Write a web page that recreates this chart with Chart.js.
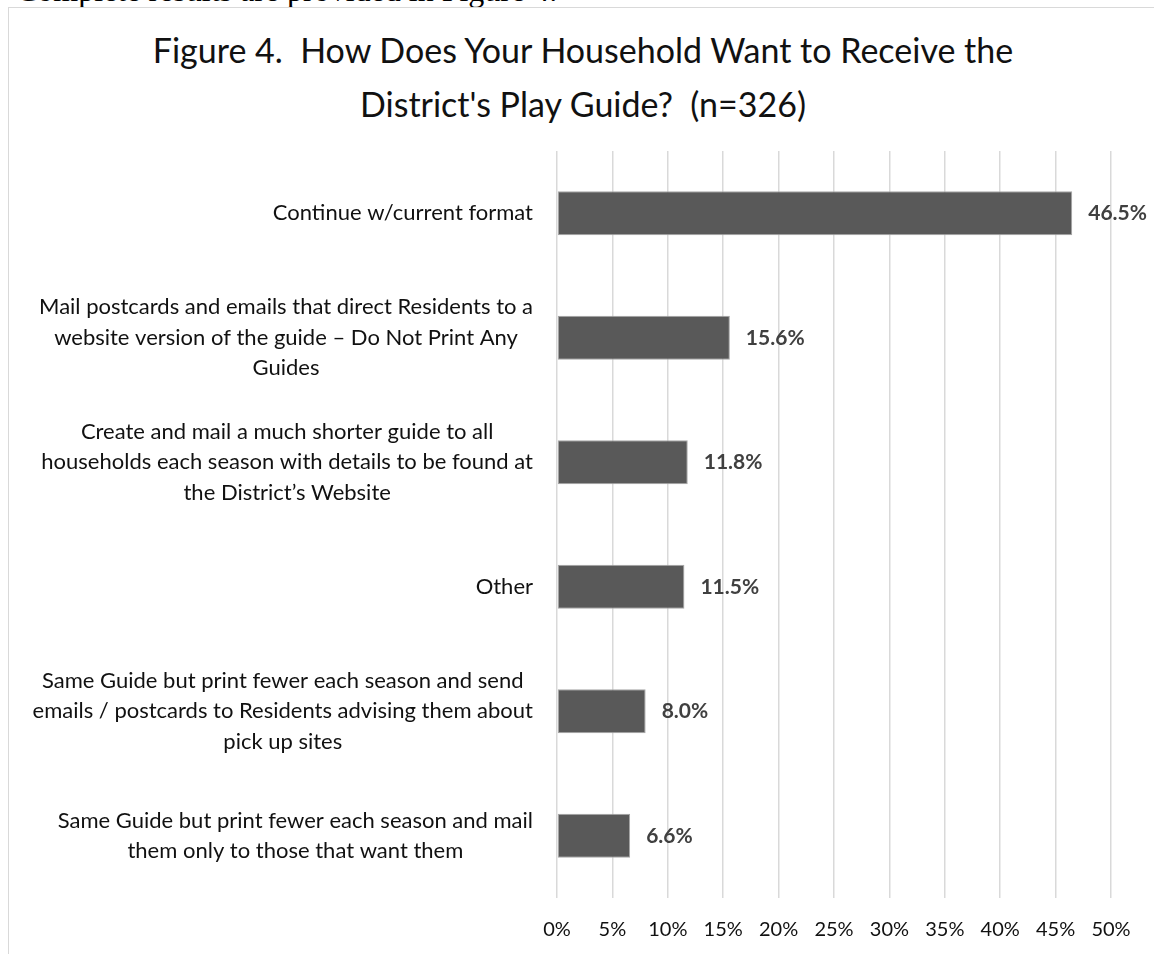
<!DOCTYPE html>
<html>
<head>
<meta charset="utf-8">
<script src="https://cdn.jsdelivr.net/npm/chart.js@4.4.0/dist/chart.umd.min.js"></script>
<style>
  html, body { margin:0; padding:0; background:#fff; width:1154px; height:954px; overflow:hidden; }
  .above { position:absolute; left:16px; top:-28px; font-family:"Liberation Serif", serif; font-size:32px; line-height:36px; color:#000; white-space:nowrap; }
  .frame { position:absolute; left:8px; top:7px; width:1200px; height:1000px; border:1px solid #d9d9d9; }
  .title { position:absolute; left:0; top:23px; width:1166px; text-align:center; font-family:Lato, sans-serif; font-size:34px; line-height:54px; color:#111; }
  .wrap { position:absolute; left:0; top:0; width:1154px; height:954px; }
</style>
</head>
<body>
<div class="above">Complete results are provided in Figure 4.</div>
<div class="frame"></div>
<div class="title">Figure 4.&nbsp; How Does Your Household Want to Receive the<br>District's Play Guide?&nbsp; (n=326)</div>
<div class="wrap"><canvas id="myChart" width="1154" height="954"></canvas></div>
<script>
const categories=[
  ["Continue w/current format"],
  ["Mail postcards and emails that direct Residents to a","website version of the guide \u2013 Do Not Print Any","Guides"],
  ["Create and mail a much shorter guide to all","households each season with details to be found at","the District\u2019s Website"],
  ["Other"],
  ["Same Guide but print fewer each season and send","emails / postcards to Residents advising them about","pick up sites"],
  ["Same Guide but print fewer each season and mail","them only to those that want them"]
];
const percents=[46.5, 15.6, 11.8, 11.5, 8.0, 6.6];
const xTicks=[0,5,10,15,20,25,30,35,40,45,50];

// y labels: block right aligned, lines centered inside block (like Excel)
const yLabelPlugin={
  id:'yLabels',
  afterDraw(chart){
    const ctx=chart.ctx;
    const y=chart.scales.y;
    ctx.save();
    ctx.font='22px Lato';
    ctx.fillStyle='#111';
    ctx.textAlign='center';
    ctx.textBaseline='middle';
    categories.forEach((lines,i)=>{
      let w=0;
      lines.forEach(l=>{ w=Math.max(w, ctx.measureText(l).width); });
      const cx=y.right-24-w/2;
      const cy=y.getPixelForTick(i);
      const lh=30.5;
      lines.forEach((l,j)=>{
        ctx.fillText(l, cx, cy+(j-(lines.length-1)/2)*lh);
      });
    });
    ctx.restore();
  }
};

const valueLabelPlugin={
  id:'valueLabels',
  afterDatasetsDraw(chart){
    const ctx=chart.ctx;
    const meta=chart.getDatasetMeta(0);
    ctx.save();
    ctx.font='bold 21px Lato';
    ctx.fillStyle='#404040';
    ctx.textAlign='left';
    ctx.textBaseline='middle';
    meta.data.forEach((bar,i)=>{
      ctx.fillText(percents[i].toFixed(1)+'%', bar.x+16, bar.y);
    });
    ctx.restore();
  }
};

const ctx=document.getElementById('myChart');
const myChart=new Chart(ctx,{
  type:'bar',
  data:{
    labels:categories.map(c=>c.join(' ')),
    datasets:[{
      data:percents,
      backgroundColor:'#595959',
      borderColor:'#a6a6a6',
      borderWidth:1,
      borderSkipped:false,
      categoryPercentage:1,
      barPercentage:0.352,
    }]
  },
  options:{
    indexAxis:'y',
    responsive:false,
    animation:false,
    devicePixelRatio:1,
    layout:{ padding:{ left:0, right:43, top:151, bottom:0 } },
    plugins:{
      legend:{ display:false },
      tooltip:{ enabled:false }
    },
    scales:{
      x:{
        min:0,
        max:50,
        afterBuildTicks(scale){ scale.ticks=xTicks.map(v=>({value:v})); },
        afterFit(scale){ scale.height=56; },
        border:{ display:false },
        grid:{ color:'#d9d9d9', lineWidth:1.5, drawTicks:false },
        ticks:{
          padding:20,
          color:'#111',
          font:{ family:'Lato', size:20 },
          callback:(v)=>v+'%'
        }
      },
      y:{
        afterFit(scale){ scale.width=557; },
        border:{ display:false },
        grid:{ display:false, drawTicks:false },
        ticks:{ display:false }
      }
    }
  },
  plugins:[yLabelPlugin, valueLabelPlugin]
});
</script>
</body>
</html>
